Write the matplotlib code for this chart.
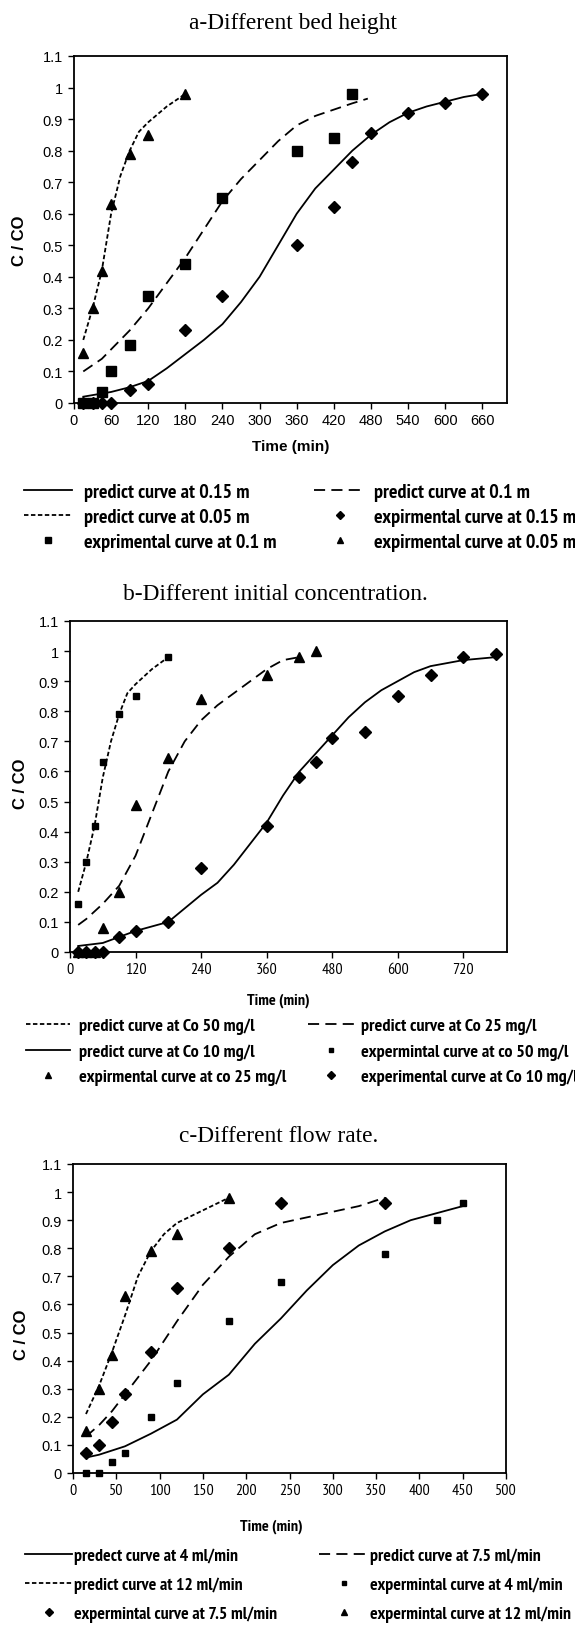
import matplotlib
matplotlib.use("Agg")
import matplotlib.pyplot as plt
from matplotlib import font_manager

plt.rcParams['font.family'] = ['Liberation Sans', 'DejaVu Sans']
plt.rcParams['lines.scale_dashes'] = False

W, H = 575, 1631

# --- a: different bed height ---
a_t15 = [15, 30, 60, 90, 120, 150, 180, 210, 240, 270, 300, 330, 360, 390, 420, 450, 480, 510, 540, 570, 600, 630, 660]
a_p15 = [0.02, 0.025, 0.035, 0.05, 0.07, 0.11, 0.155, 0.2, 0.25, 0.32, 0.4, 0.5, 0.6, 0.68, 0.74, 0.8, 0.85, 0.89, 0.92, 0.94, 0.955, 0.97, 0.98]
a_t10 = [15, 45, 60, 90, 120, 150, 180, 210, 240, 270, 300, 330, 360, 390, 420, 450, 475]
a_p10 = [0.1, 0.14, 0.17, 0.23, 0.3, 0.38, 0.46, 0.55, 0.64, 0.71, 0.77, 0.83, 0.88, 0.91, 0.93, 0.95, 0.965]
a_t05 = [15, 30, 45, 60, 75, 90, 105, 120, 150, 180]
a_p05 = [0.2, 0.3, 0.42, 0.6, 0.72, 0.8, 0.86, 0.89, 0.94, 0.98]
a_xe15 = [15, 30, 45, 60, 90, 120, 180, 240, 360, 420, 450, 480, 540, 600, 660]
a_ye15 = [0, 0, 0, 0, 0.04, 0.06, 0.23, 0.34, 0.5, 0.62, 0.765, 0.855, 0.92, 0.95, 0.98]
a_xe10 = [15, 30, 45, 60, 90, 120, 180, 240, 360, 420, 450]
a_ye10 = [0, 0, 0.035, 0.1, 0.185, 0.34, 0.44, 0.65, 0.8, 0.84, 0.98]
a_xe05 = [15, 30, 45, 60, 90, 120, 180]
a_ye05 = [0.16, 0.3, 0.42, 0.63, 0.79, 0.85, 0.98]

# --- b: different initial concentration ---
b_t50 = [15, 30, 45, 60, 75, 90, 105, 120, 150, 180]
b_p50 = [0.2, 0.3, 0.42, 0.58, 0.7, 0.79, 0.86, 0.89, 0.94, 0.98]
b_t25 = [15, 30, 60, 90, 120, 150, 180, 210, 240, 270, 300, 330, 360, 390, 420]
b_p25 = [0.09, 0.11, 0.16, 0.22, 0.32, 0.46, 0.6, 0.7, 0.77, 0.82, 0.86, 0.9, 0.94, 0.97, 0.98]
b_t10 = [15, 60, 90, 120, 180, 240, 270, 300, 330, 360, 390, 420, 450, 480, 510, 540, 570, 600, 630, 660, 720, 780]
b_p10 = [0.02, 0.03, 0.05, 0.07, 0.1, 0.19, 0.23, 0.29, 0.36, 0.43, 0.52, 0.6, 0.66, 0.72, 0.78, 0.83, 0.87, 0.9, 0.93, 0.95, 0.97, 0.98]
b_xe50 = [15, 30, 45, 60, 90, 120, 180]
b_ye50 = [0.16, 0.3, 0.42, 0.63, 0.79, 0.85, 0.98]
b_xe25 = [15, 30, 45, 60, 90, 120, 180, 240, 360, 420, 450]
b_ye25 = [0, 0, 0, 0.08, 0.2, 0.49, 0.645, 0.84, 0.92, 0.98, 1.0]
b_xe10 = [15, 30, 45, 60, 90, 120, 180, 240, 360, 420, 450, 480, 540, 600, 660, 720, 780]
b_ye10 = [0, 0, 0, 0, 0.05, 0.07, 0.1, 0.28, 0.42, 0.58, 0.63, 0.71, 0.73, 0.85, 0.92, 0.98, 0.99]

# --- c: different flow rate ---
c_t4 = [15, 30, 45, 60, 90, 120, 150, 180, 210, 240, 270, 300, 330, 360, 390, 420, 450]
c_p4 = [0.055, 0.065, 0.08, 0.095, 0.14, 0.19, 0.28, 0.35, 0.46, 0.55, 0.65, 0.74, 0.81, 0.86, 0.9, 0.925, 0.95]
c_t75 = [15, 30, 45, 60, 90, 120, 150, 180, 210, 240, 270, 300, 330, 360]
c_p75 = [0.13, 0.17, 0.22, 0.28, 0.4, 0.54, 0.67, 0.77, 0.85, 0.89, 0.91, 0.93, 0.95, 0.98]
c_t12 = [15, 30, 45, 60, 75, 90, 105, 120, 150, 180]
c_p12 = [0.21, 0.31, 0.43, 0.56, 0.7, 0.79, 0.85, 0.89, 0.935, 0.98]
c_xe4 = [15, 30, 45, 60, 90, 120, 180, 240, 360, 420, 450]
c_ye4 = [0, 0, 0.04, 0.07, 0.2, 0.32, 0.54, 0.68, 0.78, 0.9, 0.96]
c_xe75 = [15, 30, 45, 60, 90, 120, 180, 240, 360]
c_ye75 = [0.07, 0.1, 0.18, 0.28, 0.43, 0.66, 0.8, 0.96, 0.96]
c_xe12 = [15, 30, 45, 60, 90, 120, 180]
c_ye12 = [0.15, 0.3, 0.42, 0.63, 0.79, 0.85, 0.98]

a_labels = ["predict curve at 0.15 m", "predict curve at 0.05 m", "exprimental curve at 0.1 m",
            "predict curve at 0.1 m", "expirmental curve at 0.15 m", "expirmental curve at 0.05 m"]
b_labels = ["predict curve at Co 50 mg/l", "predict curve at Co 10 mg/l", "expirmental curve at co 25 mg/l",
            "predict curve at Co 25 mg/l", "expermintal curve at co 50 mg/l", "experimental curve at Co 10 mg/l"]
c_labels = ["predect curve at 4 ml/min", "predict curve at 12 ml/min", "expermintal curve at 7.5 ml/min",
            "predict curve at 7.5 ml/min", "expermintal curve at 4 ml/min", "expermintal curve at 12 ml/min"]

SOLID = '-'
LONG = (0, (8, 4.5))
SHORT = (0, (3.2, 1.8))
LW = 1.3

# --- pick a narrow bold face (Arial Narrow look-alike) ---
bold_names = {f.name for f in font_manager.fontManager.ttflist
              if (f.weight if isinstance(f.weight, int) else 400) >= 600 or f.weight == 'bold'}
NARROW = 'Liberation Sans'
for cand in ['Liberation Sans Narrow', 'Arial Narrow', 'PT Sans Narrow', 'Roboto Condensed',
             'Archivo Narrow', 'Barlow Semi Condensed']:
    if cand in bold_names:
        NARROW = cand
        break

fig = plt.figure(figsize=(W / 100, H / 100), dpi=100)
renderer = fig.canvas.get_renderer()


def width_of(s, **kw):
    t = fig.text(0, 0, s, **kw)
    w = t.get_window_extent(renderer).width
    t.remove()
    return w


def fit_size(s, target, **kw):
    return 10 * target / width_of(s, fontsize=10, **kw)


NB = dict(family=NARROW, weight='bold')
LEG_A = fit_size("predict curve at 0.15 m", 167, **NB)
LEG_B = (fit_size("predict curve at Co 50 mg/l", 178, **NB)
         + fit_size("expermintal curve at co 50 mg/l", 205, **NB)) / 2
LEG_C = (fit_size("predect curve at 4 ml/min", 165, **NB)
         + fit_size("expermintal curve at 4 ml/min", 193, **NB)) / 2
TIME_N = fit_size("Time (min)", 63, **NB)
TITLE = fit_size("b-Different initial concentration.", 305, family='Liberation Serif')
TICK = 10.5


def box(l, t, r, b):
    return [l / W, 1 - b / H, (r - l) / W, (b - t) / H]


def style(ax, xmax, xticks, narrow_x=False):
    ax.set_xlim(0, xmax)
    ax.set_ylim(0, 1.1)
    ax.set_xticks(xticks)
    ax.set_yticks([i / 10 for i in range(12)])
    ax.set_yticklabels([f"{i / 10:g}" for i in range(12)])
    ax.tick_params(direction='out', length=4, width=1, labelsize=TICK, pad=3)
    ax.tick_params(axis='y', pad=4)
    for s in ax.spines.values():
        s.set_linewidth(1.3)
    if narrow_x:
        for lab in ax.get_xticklabels():
            lab.set_family(NARROW)
            lab.set_fontsize(TICK + 1)


def ylabel(ax, x, y):
    ax.text(x, y, "C / CO", transform=ax.transAxes, ha='center', va='center',
            rotation=90, fontsize=12, fontweight='bold')


# panel a
ax = fig.add_axes(box(74, 57, 507, 404))
la, = ax.plot(a_t15, a_p15, color='k', lw=LW, ls=SOLID)
lb, = ax.plot(a_t10, a_p10, color='k', lw=LW, ls=LONG)
lc, = ax.plot(a_t05, a_p05, color='k', lw=LW, ls=SHORT)
md, = ax.plot(a_xe15, a_ye15, 'D', color='k', ms=6, ls='none', clip_on=False)
ms_, = ax.plot(a_xe10, a_ye10, 's', color='k', ms=6.5, ls='none', clip_on=False)
mt, = ax.plot(a_xe05, a_ye05, '^', color='k', ms=7, ls='none', clip_on=False)
style(ax, 700, range(0, 661, 60))
ax.text(0.5, -0.125, "Time (min)", transform=ax.transAxes, ha='center', va='center',
        fontsize=11, fontweight='bold')
ylabel(ax, -0.125, 0.47)
fig.text(293 / W, 1 - 23 / H, "a-Different bed height", ha='center', va='center',
         family='Liberation Serif', fontsize=TITLE)
a_handles = [la, lc, ms_, lb, md, mt]

# panel b
bx = fig.add_axes(box(70, 622, 507, 953))
ba, = bx.plot(b_t50, b_p50, color='k', lw=LW, ls=SHORT)
bb, = bx.plot(b_t25, b_p25, color='k', lw=LW, ls=LONG)
bc, = bx.plot(b_t10, b_p10, color='k', lw=LW, ls=SOLID)
bs, = bx.plot(b_xe50, b_ye50, 's', color='k', ms=4.5, ls='none', clip_on=False)
bt, = bx.plot(b_xe25, b_ye25, '^', color='k', ms=7, ls='none', clip_on=False)
bd, = bx.plot(b_xe10, b_ye10, 'D', color='k', ms=6, ls='none', clip_on=False)
style(bx, 800, range(0, 721, 120), narrow_x=True)
bx.text(0.476, -0.143, "Time (min)", transform=bx.transAxes, ha='center', va='center',
        fontsize=TIME_N, fontweight='bold', family=NARROW)
ylabel(bx, -0.114, 0.51)
fig.text(275 / W, 1 - 595 / H, "b-Different initial concentration.", ha='center', va='center',
         family='Liberation Serif', fontsize=TITLE)
b_handles = [ba, bc, bt, bb, bs, bd]

# panel c
cx = fig.add_axes(box(73, 1165, 506, 1474))
ca, = cx.plot(c_t4, c_p4, color='k', lw=LW, ls=SOLID)
cb, = cx.plot(c_t75, c_p75, color='k', lw=LW, ls=LONG)
cc, = cx.plot(c_t12, c_p12, color='k', lw=LW, ls=SHORT)
cs, = cx.plot(c_xe4, c_ye4, 's', color='k', ms=4.5, ls='none', clip_on=False)
cd, = cx.plot(c_xe75, c_ye75, 'D', color='k', ms=6, ls='none', clip_on=False)
ct, = cx.plot(c_xe12, c_ye12, '^', color='k', ms=7, ls='none', clip_on=False)
style(cx, 500, range(0, 501, 50), narrow_x=True)
cx.text(0.457, -0.172, "Time (min)", transform=cx.transAxes, ha='center', va='center',
        fontsize=TIME_N, fontweight='bold', family=NARROW)
ylabel(cx, -0.12, 0.45)
fig.text(279 / W, 1 - 1137 / H, "c-Different flow rate.", ha='center', va='center',
         family='Liberation Serif', fontsize=TITLE)
c_handles = [ca, cc, cd, cb, cs, ct]


# --- legends: two single-column legends per panel, rows placed at measured pitch ---
def legend_col(handles, labels, size, x0, row1, pitch, hlen_px, pad_px):
    fs_px = size * 100 / 72
    kw = dict(loc='upper left', bbox_transform=fig.transFigure, frameon=False, borderpad=0,
              borderaxespad=0, handlelength=hlen_px / fs_px, handletextpad=pad_px / fs_px,
              markerscale=0.7, prop={'family': NARROW, 'weight': 'bold', 'size': size})
    leg = fig.legend(handles, labels, labelspacing=0.5, bbox_to_anchor=(0, 1), **kw)
    h_tot = leg.get_window_extent(renderer).height
    row_h = (h_tot - 2 * 0.5 * fs_px) / 3
    leg.remove()
    spacing = max(pitch - row_h, 0) / fs_px
    top = row1 - row_h / 2
    fig.legend(handles, labels, labelspacing=spacing, bbox_to_anchor=(x0 / W, 1 - top / H), **kw)


legend_col(a_handles[:3], a_labels[:3], LEG_A, 24, 493, 25, 48, 12)
legend_col(a_handles[3:], a_labels[3:], LEG_A, 314, 493, 25, 51, 9)
legend_col(b_handles[:3], b_labels[:3], LEG_B, 26, 1027, 25.5, 44, 9)
legend_col(b_handles[3:], b_labels[3:], LEG_B, 308, 1027, 25.5, 46, 7)
legend_col(c_handles[:3], c_labels[:3], LEG_C, 25, 1557, 29, 47, 2)
legend_col(c_handles[3:], c_labels[3:], LEG_C, 319, 1557, 29, 49, 2)

fig.savefig("out.png", dpi=100)
